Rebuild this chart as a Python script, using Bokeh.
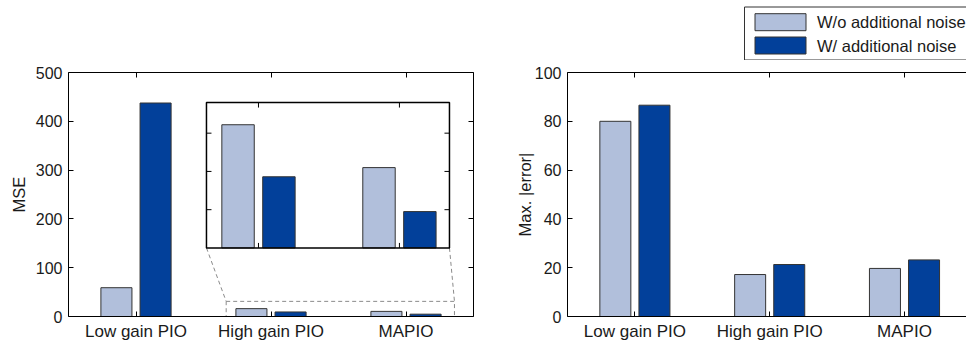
from bokeh.plotting import figure
from bokeh.layouts import row, column
from bokeh.models import Range1d, FixedTicker, LinearAxis
from bokeh.core.properties import value
from bokeh.embed import file_html
from bokeh.resources import INLINE

# ---- data -------------------------------------------------------------
categories = ["Low gain PIO", "High gain PIO", "MAPIO"]
mse_without_noise = [59, 16.1, 10.5]
mse_with_noise = [437.5, 9.3, 4.75]
maxerr_without_noise = [80.0, 17.2, 19.7]
maxerr_with_noise = [86.6, 21.3, 23.2]
mse_ticks = [0, 100, 200, 300, 400, 500]
maxerr_ticks = [0, 20, 40, 60, 80, 100]
inset_yticks = [5, 10, 15]
series_labels = ["W/o additional noise", "W/ additional noise"]

# ---- style ------------------------------------------------------------
LIGHT = "#b1bfdb"
DARK = "#02409a"
EDGE = "#333333"
FONT = "Liberation Sans"
TEXT = "#1a1a1a"
BAR_W = 0.23
OFFSET = 0.145
FRAME_H = 244
TICK = 5
TOP = 72
KEY_H = 60
RIGHT_LEFT_BORDER = 77
RIGHT_FRAME_W = 399

xs = [1, 2, 3]
x_left = [c - OFFSET for c in xs]
x_right = [c + OFFSET for c in xs]
tick_labels = {i + 1: c for i, c in enumerate(categories)}


def style_axis(ax, ticks, size="16px", labels=True):
    ax.axis_line_color = "black"
    ax.axis_line_width = 1
    ax.major_tick_line_color = "black"
    ax.major_tick_in = TICK
    ax.major_tick_out = 0
    ax.minor_tick_in = 0
    ax.minor_tick_out = 0
    ax.major_label_text_font = FONT
    ax.major_label_text_font_size = size
    ax.major_label_text_color = TEXT
    ax.axis_label_text_font = FONT
    ax.axis_label_text_font_size = "16.5px"
    ax.axis_label_text_font_style = "normal"
    ax.axis_label_text_color = TEXT
    if not labels:
        ax.major_label_overrides = {t: "" for t in ticks}
        ax.major_label_standoff = 0


def base_figure(width, height, border_left, border_right, border_top, x_end, y_end,
                yticks, ylabel, label_standoff, right_axis=True):
    p = figure(width=width, height=height, output_backend="svg", toolbar_location=None,
               x_range=Range1d(0.5, x_end), y_range=Range1d(0, y_end),
               min_border_left=border_left, min_border_right=border_right,
               min_border_top=border_top, min_border_bottom=29)
    p.outline_line_color = None
    p.xgrid.visible = False
    p.ygrid.visible = False
    p.background_fill_color = "white"
    p.border_fill_color = "white"

    p.xaxis.ticker = FixedTicker(ticks=xs)
    p.xaxis.major_label_overrides = tick_labels
    p.xaxis.major_label_standoff = 5
    p.yaxis.ticker = FixedTicker(ticks=yticks)
    p.yaxis.major_label_standoff = 6
    p.yaxis.axis_label = ylabel
    p.yaxis.axis_label_standoff = label_standoff
    style_axis(p.xaxis[0], xs, size="17px")
    style_axis(p.yaxis[0], yticks, size="16px")

    top = LinearAxis(ticker=FixedTicker(ticks=xs))
    style_axis(top, xs, labels=False)
    p.add_layout(top, "above")
    if right_axis:
        right = LinearAxis(ticker=FixedTicker(ticks=yticks))
        style_axis(right, yticks, labels=False)
        p.add_layout(right, "right")
    return p


# ---- left panel: MSE with magnified view ------------------------------
p1 = base_figure(490, 345, 68, 17, TOP, 3.5, 500, mse_ticks, "MSE", 5)
p1.vbar(x=x_left, top=mse_without_noise, width=BAR_W, fill_color=LIGHT,
        line_color=EDGE, line_width=1)
p1.vbar(x=x_right, top=mse_with_noise, width=BAR_W, fill_color=DARK,
        line_color=EDGE, line_width=1)

# region that gets magnified (main-axis coordinates)
zoom_left, zoom_right, zoom_top = 1.668, 3.359, 31
# where the magnified view sits (main-axis coordinates)
box_left, box_right, box_bottom, box_top = 1.522, 3.322, 140.5, 438.4
# limits of the magnified view
inset_x0, inset_x1 = 1.631, 3.355
inset_y0, inset_y1 = 0, 19


def mapped_range(main_start, main_end, b0, b1, v0, v1):
    scale = (v1 - v0) / (b1 - b0)
    return Range1d(v0 + (main_start - b0) * scale, v0 + (main_end - b0) * scale)


p1.extra_x_ranges = {"inset": mapped_range(0.5, 3.5, box_left, box_right, inset_x0, inset_x1)}
p1.extra_y_ranges = {"inset": mapped_range(0, 500, box_bottom, box_top, inset_y0, inset_y1)}
ix = p1.extra_x_ranges["inset"]
iy = p1.extra_y_ranges["inset"]
px_per_ix = 405 / (ix.end - ix.start)
px_per_iy = FRAME_H / (iy.end - iy.start)

dash = dict(line_color="#8a8a8a", line_width=1, line_dash="4 3")
p1.quad(left=[zoom_left], right=[zoom_right], bottom=[0], top=[zoom_top],
        fill_color=None, **dash)
p1.segment(x0=[box_left, box_right], y0=[box_bottom, box_bottom],
           x1=[zoom_left, zoom_right], y1=[zoom_top, zoom_top], **dash)

inset = dict(x_range_name="inset", y_range_name="inset")
p1.quad(left=[inset_x0], right=[inset_x1], bottom=[inset_y0], top=[inset_y1],
        fill_color="white", line_color=None, **inset)
p1.vbar(x=x_left[1:], top=mse_without_noise[1:], width=BAR_W, fill_color=LIGHT,
        line_color=EDGE, line_width=1, **inset)
p1.vbar(x=x_right[1:], top=mse_with_noise[1:], width=BAR_W, fill_color=DARK,
        line_color=EDGE, line_width=1, **inset)

tx = TICK / px_per_ix
ty = TICK / px_per_iy
inset_xticks = xs[1:]
p1.segment(x0=inset_xticks + inset_xticks, y0=[inset_y0] * 2 + [inset_y1] * 2,
           x1=inset_xticks + inset_xticks, y1=[inset_y0 + ty] * 2 + [inset_y1 - ty] * 2,
           line_color="black", line_width=1, **inset)
p1.segment(x0=[inset_x0] * 3 + [inset_x1] * 3, y0=inset_yticks + inset_yticks,
           x1=[inset_x0 + tx] * 3 + [inset_x1 - tx] * 3, y1=inset_yticks + inset_yticks,
           line_color="black", line_width=1, **inset)
p1.quad(left=[inset_x0], right=[inset_x1], bottom=[inset_y0], top=[inset_y1],
        fill_color=None, line_color="black", line_width=1.5, **inset)

# ---- right panel: maximum absolute error ------------------------------
p2 = base_figure(476, 345 - KEY_H, RIGHT_LEFT_BORDER, 0, TOP - KEY_H,
                 0.5 + RIGHT_FRAME_W / 134.8, 100,
                 maxerr_ticks, "Max. |error|", -2, right_axis=False)
p2.vbar(x=x_left, top=maxerr_without_noise, width=BAR_W, fill_color=LIGHT,
        line_color=EDGE, line_width=1)
p2.vbar(x=x_right, top=maxerr_with_noise, width=BAR_W, fill_color=DARK,
        line_color=EDGE, line_width=1)

# ---- key strip above the right panel (pixel-like coordinates, y downwards,
# x measured from the left edge of the right panel's plotting area)
key = figure(width=476, height=KEY_H, output_backend="svg", toolbar_location=None,
             x_range=Range1d(0, RIGHT_FRAME_W), y_range=Range1d(KEY_H, 0),
             min_border_left=RIGHT_LEFT_BORDER, min_border_right=0,
             min_border_top=0, min_border_bottom=0, outline_line_color=None)
key.axis.visible = False
key.grid.visible = False
key.background_fill_color = "white"
key.border_fill_color = "white"

box_x, box_y0, box_y1 = 177, 6.5, 59.5
swatch_x, swatch_w, swatch_h = 187.5, 51, 17
rows = [21.7, 45.0]
key.quad(left=[box_x], right=[box_x + 260], top=[box_y0], bottom=[box_y1],
         fill_color="white", line_color="#333333", line_width=1)
key.quad(left=[swatch_x] * 2, right=[swatch_x + swatch_w] * 2,
         top=[r - swatch_h / 2 for r in rows], bottom=[r + swatch_h / 2 for r in rows],
         fill_color=[LIGHT, DARK], line_color=EDGE, line_width=1)
key.text(x=[swatch_x + swatch_w + 11] * 2, y=rows, text=series_labels,
         text_font=value(FONT), text_font_size="16.5px", text_baseline="middle",
         text_align="left", text_color=TEXT)

layout = row(p1, column(key, p2, spacing=0), spacing=0)
open("out.html", "w").write(file_html(layout, INLINE))
